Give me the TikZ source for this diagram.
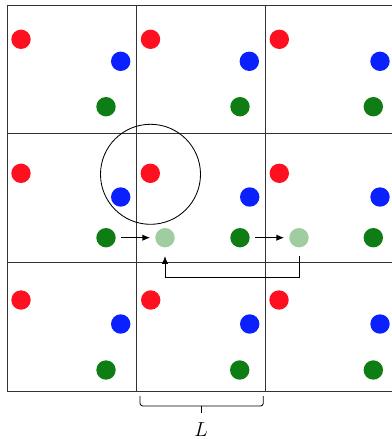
\documentclass[tikz,border=0pt]{standalone}
\usepackage{amsmath}
\usepackage{tikz}
\usetikzlibrary{arrows.meta,positioning,calc}
\definecolor{pred}{RGB}{255,16,32}
\definecolor{pblue}{RGB}{10,32,255}
\definecolor{pgreen}{RGB}{14,126,20}
\definecolor{pghost}{RGB}{160,205,160}

\begin{document}
\begin{tikzpicture}[
  x=0.025cm, y=-0.025cm,
  dot/.style={circle, inner sep=0pt, minimum size=0.485cm},
  rdot/.style={dot, fill=pred},
  bdot/.style={dot, fill=pblue},
  gdot/.style={dot, fill=pgreen},
  ghost/.style={dot, fill=pghost},
  gridline/.style={line width=0.7pt, black!80},
  arrow/.style={-{Latex[length=5.5pt,width=4.5pt]}, line width=0.6pt,
                shorten <=3.5pt, shorten >=3.5pt},
]
\useasboundingbox (0,0) rectangle (391,439);

% Periodic cells
\draw[gridline] (7,5) -- (396,5);
\draw[gridline] (7,133.3) -- (396,133.3);
\draw[gridline] (7,262.7) -- (396,262.7);
\draw[gridline] (7,391.7) -- (396,391.7);
\draw[gridline] (7,5) -- (7,391.7);
\draw[gridline] (136,5) -- (136,391.7);
\draw[gridline] (265.5,5) -- (265.5,391.7);

% Row 1
\node[rdot] (r11) at (21,39.3) {};
\node[rdot] (r12) at (150.5,39.3) {};
\node[rdot] (r13) at (279.3,39.3) {};
\node[bdot] (b11) at (120.7,61.3) {};
\node[bdot] (b12) at (249.3,61.3) {};
\node[bdot] (b13) at (380,61.3) {};
\node[gdot] (g11) at (106,106.7) {};
\node[gdot] (g12) at (240,106.7) {};
\node[gdot] (g13) at (373.3,106.7) {};

% Row 2
\node[rdot] (r21) at (21,173.3) {};
\node[rdot] (r22) at (150.3,173.3) {};
\node[rdot] (r23) at (279.3,173.3) {};
\node[bdot] (b21) at (120.7,197) {};
\node[bdot] (b22) at (249.7,197) {};
\node[bdot] (b23) at (380,197) {};
\node[gdot] (g21) at (106,237.7) {};
\node[gdot] (g22) at (240,237.7) {};
\node[gdot] (g23) at (373.3,237.7) {};

% Row 3
\node[rdot] (r31) at (21,300) {};
\node[rdot] (r32) at (150.7,300) {};
\node[rdot] (r33) at (279,300) {};
\node[bdot] (b31) at (120.7,324) {};
\node[bdot] (b32) at (249.7,324) {};
\node[bdot] (b33) at (380,324) {};
\node[gdot] (g31) at (106,370) {};
\node[gdot] (g32) at (239.7,370) {};
\node[gdot] (g33) at (373.3,370) {};

% Cutoff sphere
\node[draw, circle, line width=0.6pt, inner sep=0pt, minimum size=2.5cm] (sphere) at (150.5,174.3) {};

% Displaced images
\node[ghost] (h1) at (165,237.7) {};
\node[ghost] (h2) at (299,237.7) {};

\draw[arrow] (g21) -- (h1);
\draw[arrow] (g22) -- (h2);
\draw[arrow, shorten <=6pt, shorten >=6pt] (h2.south) -- ++(0,29.6) -| (h1.south);

% Box length
\coordinate (bl) at (140,396);
\coordinate (br) at (263.3,396);
\coordinate (bm) at (201.5,406);
\draw[line width=0.6pt, rounded corners=2pt] (bl) |- (bm) -| (br);
\draw[line width=0.6pt] (bm) -- ++(0,7);
\node[font=\fontsize{13.5}{16}\selectfont] (len) at (201,429.5) {$L$};
\end{tikzpicture}
\end{document}
